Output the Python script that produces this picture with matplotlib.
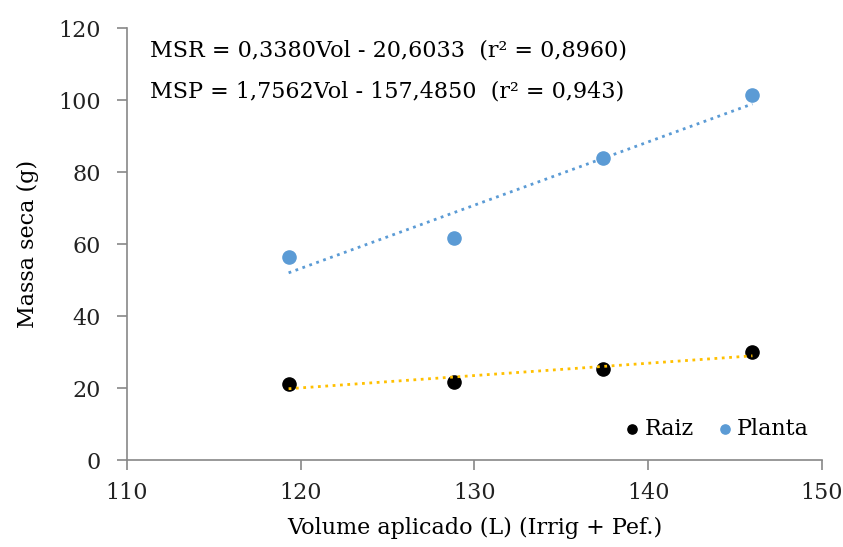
import numpy as np
import matplotlib.pyplot as plt

plt.rcParams['font.family'] = ['DejaVu Serif']

volume = [119.3, 128.8, 137.4, 146.0]
raiz = [21.0, 21.6, 25.2, 30.0]
planta = [56.5, 61.7, 83.8, 101.4]

eq_raiz = "MSR = 0,3380Vol - 20,6033  (r² = 0,8960)"
eq_planta = "MSP = 1,7562Vol - 157,4850  (r² = 0,943)"

fig = plt.figure(figsize=(8.43, 5.47), dpi=100)
ax = fig.add_axes([0.1507, 0.159, 0.8243, 0.7898])

x = np.array(volume)
xl = np.array([x.min(), x.max()])

# trend lines (least squares, like the spreadsheet trendline)
p_r = np.polyfit(x, raiz, 1)
p_p = np.polyfit(x, planta, 1)
ax.plot(xl, np.polyval(p_r, xl), color='#FFC000', ls=':', lw=2, zorder=3)
ax.plot(xl, np.polyval(p_p, xl), color='#5B9BD5', ls=':', lw=2, zorder=3)

ax.scatter(x, raiz, s=90, color='black', label='Raiz', zorder=2)
ax.scatter(x, planta, s=90, color='#5B9BD5', label='Planta', zorder=2)

ax.set_xlim(110, 150)
ax.set_ylim(0, 120)
ax.set_xticks(np.arange(110, 151, 10))
ax.set_yticks(np.arange(0, 121, 20))

for s in ['top', 'right']:
    ax.spines[s].set_visible(False)
for s in ['left', 'bottom']:
    ax.spines[s].set_color('#888888')
    ax.spines[s].set_linewidth(1.2)
ax.tick_params(direction='out', length=7, width=1.2, color='#888888',
               labelsize=16, labelcolor='#222222')
ax.tick_params(axis='x', pad=9)
ax.tick_params(axis='y', pad=12)

ax.set_xlabel('Volume aplicado (L) (Irrig + Pef.)', fontsize=16, labelpad=9)
ax.set_ylabel('Massa seca (g)', fontsize=16, labelpad=14)

ax.text(0.033, 0.949, eq_raiz, transform=ax.transAxes, fontsize=16, va='center')
ax.text(0.033, 0.852, eq_planta, transform=ax.transAxes, fontsize=16, va='center')

ax.legend(loc='lower right', ncol=2, frameon=False, fontsize=16,
          handlelength=0.8, handletextpad=0.15, columnspacing=1.0,
          markerscale=0.7, bbox_to_anchor=(1.01, 0.0))

plt.savefig('out.png', dpi=100)
